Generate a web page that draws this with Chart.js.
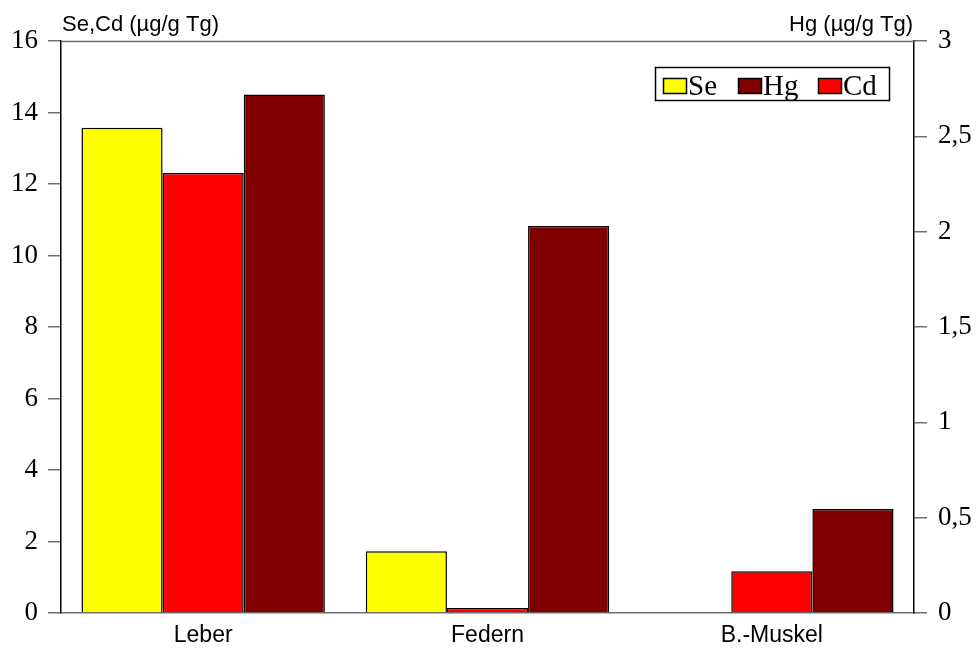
<!DOCTYPE html>
<html>
<head>
<meta charset="utf-8">
<script src="https://cdn.jsdelivr.net/npm/chart.js@4.4.1/dist/chart.umd.min.js"></script>
<style>
html,body{margin:0;padding:0;background:#fff;}
#wrap{width:977px;height:649px;position:relative;}
</style>
</head>
<body>
<div id="wrap"><canvas id="c" width="977" height="649"></canvas></div>
<script>
const categories = ["Leber", "Federn", "B.-Muskel"];
const seValues = [13.57, 1.73, null];      // left axis (µg/g Tg)
const cdValues = [12.31, 0.14, 1.17];      // left axis (µg/g Tg)
const hgValues = [2.72, 2.03, 0.545];      // right axis (µg/g Tg)
const leftTicks = [0, 2, 4, 6, 8, 10, 12, 14, 16];
const rightTicks = [0, 0.5, 1, 1.5, 2, 2.5, 3];
const leftTitle = "Se,Cd (µg/g Tg)";
const rightTitle = "Hg (µg/g Tg)";
const legendOrder = ["Se", "Hg", "Cd"];

const colors = { Se: "#ffff00", Cd: "#ff0000", Hg: "#800000" };
const serif = "'Liberation Serif', 'Times New Roman', serif";
const sans = "'Liberation Sans', Arial, sans-serif";

const extrasPlugin = {
  id: "extras",
  afterDraw(chart) {
    const ctx = chart.ctx;
    const a = chart.chartArea;
    ctx.save();
    // top frame line
    ctx.strokeStyle = "#6e6e6e";
    ctx.lineWidth = 1.5;
    ctx.beginPath();
    ctx.moveTo(a.left, a.top + 0.5);
    ctx.lineTo(a.right, a.top + 0.5);
    ctx.stroke();
    // axis titles
    ctx.fillStyle = "#000";
    ctx.font = "22px " + sans;
    ctx.textBaseline = "alphabetic";
    ctx.textAlign = "left";
    ctx.fillText(leftTitle, a.left + 1, 31);
    ctx.textAlign = "right";
    ctx.fillText(rightTitle, a.right - 1, 31);
    // legend
    const bx = 655, by = 67, bw = 234, bh = 33;
    ctx.fillStyle = "#fff";
    ctx.fillRect(bx, by, bw, bh);
    ctx.strokeStyle = "#000";
    ctx.lineWidth = 1.5;
    ctx.strokeRect(bx + 0.5, by + 0.5, bw, bh);
    const swX = [663, 738, 818];
    ctx.font = "29px " + serif;
    ctx.textAlign = "left";
    ctx.textBaseline = "alphabetic";
    legendOrder.forEach((name, i) => {
      ctx.fillStyle = colors[name];
      ctx.fillRect(swX[i], 78, 23, 15);
      ctx.strokeStyle = "#000";
      ctx.lineWidth = 1.5;
      ctx.strokeRect(swX[i] + 0.5, 78.5, 23, 15);
      ctx.fillStyle = "#000";
      ctx.fillText(name, swX[i] + 25, 95);
    });
    ctx.restore();
  }
};

const fmt = v => String(v).replace(".", ",");

new Chart(document.getElementById("c"), {
  type: "bar",
  data: {
    labels: categories,
    datasets: [
      { label: "Se", data: seValues, backgroundColor: colors.Se, borderColor: "#000", borderWidth: 1.5, yAxisID: "y" },
      { label: "Cd", data: cdValues, backgroundColor: colors.Cd, borderColor: "#000", borderWidth: 1.5, yAxisID: "y" },
      { label: "Hg", data: hgValues, backgroundColor: colors.Hg, borderColor: "#000", borderWidth: 1.5, yAxisID: "y1" }
    ]
  },
  options: {
    responsive: false,
    animation: false,
    devicePixelRatio: 1,
    layout: { padding: { top: 41, left: 0, right: 0, bottom: 0 } },
    datasets: { bar: { categoryPercentage: 0.856, barPercentage: 1.0 } },
    plugins: { legend: { display: false }, tooltip: { enabled: false } },
    scales: {
      x: {
        grid: { display: false, drawTicks: false },
        border: { display: true, color: "#6e6e6e", width: 1.5 },
        ticks: { color: "#000", font: { family: sans, size: 23 }, padding: 9 },
        afterFit: s => { s.height = 36; }
      },
      y: {
        position: "left",
        min: 0, max: 16,
        afterBuildTicks: s => { s.ticks = leftTicks.map(v => ({ value: v })); },
        grid: { drawOnChartArea: false, drawTicks: true, tickLength: 13, color: "#6e6e6e", lineWidth: 1.5 },
        border: { display: true, color: "#000", width: 1.5 },
        ticks: { color: "#000", font: { family: serif, size: 27 }, padding: 10, callback: fmt },
        afterFit: s => { s.width = 61; }
      },
      y1: {
        position: "right",
        min: 0, max: 3,
        afterBuildTicks: s => { s.ticks = rightTicks.map(v => ({ value: v })); },
        grid: { drawOnChartArea: false, drawTicks: true, tickLength: 13, color: "#6e6e6e", lineWidth: 1.5 },
        border: { display: true, color: "#000", width: 1.5 },
        ticks: { color: "#000", font: { family: serif, size: 27 }, padding: 11, callback: fmt },
        afterFit: s => { s.width = 63; }
      }
    }
  },
  plugins: [extrasPlugin]
});
</script>
</body>
</html>
